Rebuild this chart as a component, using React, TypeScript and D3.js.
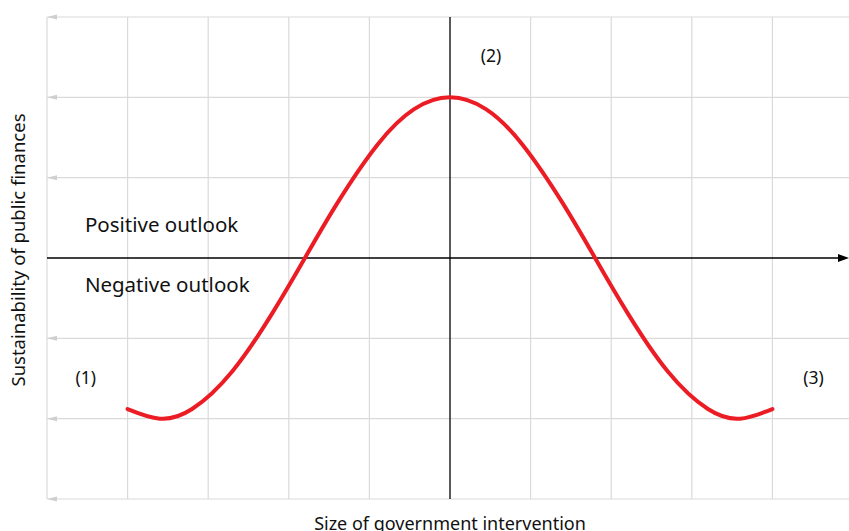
import React from 'react';
import * as d3 from 'd3';

// horizontal position of government size (-4 .. 4) and sustainability
const curveX = [-4, -3.6, -3.2, -2.7, -2.2, -1.8, -1.4, -0.9, -0.45, 0, 0.45, 0.9, 1.4, 1.8, 2.2, 2.7, 3.2, 3.6, 4];
const curveY = [-1.88, -2, -1.88, -1.41, -0.68, 0, 0.68, 1.41, 1.85, 2, 1.85, 1.41, 0.68, 0, -0.68, -1.41, -1.88, -2, -1.88];

const xGrid = [-4, -3, -2, -1, 1, 2, 3, 4];
const yGrid = [-3, -2, -1, 1, 2, 3];

const pointLabels = [
  { text: '(1)', x: -4.52, y: -1.51 },
  { text: '(2)', x: 0.51, y: 2.5 },
  { text: '(3)', x: 4.51, y: -1.51 },
];
const regionLabels = [
  { text: 'Positive outlook', x: -4.53, y: 0.39 },
  { text: 'Negative outlook', x: -4.53, y: -0.36 },
];

const width = 849;
const height = 531;
const font = '"Noto Sans", "Open Sans", sans-serif';

const App = () => {
  const x = d3.scaleLinear().domain([-5, 5]).range([47, 853]);
  const y = d3.scaleLinear().domain([-3, 3]).range([499, 17]);

  const points: [number, number][] = curveX.map((v, i) => [v, curveY[i]]);
  const line = d3.line<[number, number]>()
    .x(d => x(d[0]))
    .y(d => y(d[1]))
    .curve(d3.curveNatural);

  const grey = '#dadada';

  return (
    <div style={{ position: 'fixed', left: 0, top: 0 }}>
      <svg width={width} height={height} style={{ display: 'block', background: '#fff' }}>
        {/* grid */}
        {xGrid.map(v => (
          <line key={'gx' + v} x1={x(v)} x2={x(v)} y1={y(3)} y2={y(-3)} stroke={grey} strokeWidth={1.2} />
        ))}
        {yGrid.map(v => (
          <g key={'gy' + v}>
            <line x1={x(-5)} x2={width} y1={y(v)} y2={y(v)} stroke={grey} strokeWidth={1.2} />
            <path d={`M${x(-5)},${y(v)} L${x(-5) + 10},${y(v) - 2.5} L${x(-5) + 10},${y(v) + 2.5} Z`} fill="#cfcfcf" />
          </g>
        ))}
        <line x1={x(-5)} x2={x(-5)} y1={y(3)} y2={y(-3)} stroke={grey} strokeWidth={1.2} />

        {/* axes */}
        <line x1={x(0)} x2={x(0)} y1={y(3)} y2={y(-3)} stroke="#000" strokeWidth={1.3} />
        <line x1={x(-5)} x2={width - 8} y1={y(0)} y2={y(0)} stroke="#000" strokeWidth={1.3} />
        <path d={`M${width},${y(0)} L${width - 11},${y(0) - 4} L${width - 11},${y(0) + 4} Z`} fill="#000" />

        {/* curve */}
        <path d={line(points) || ''} fill="none" stroke="#ec1c24" strokeWidth={4} strokeLinecap="round" />

        {/* labels */}
        {pointLabels.map(l => (
          <text key={l.text} x={x(l.x)} y={y(l.y)} fontFamily={font} fontSize={17.5} fill="#111" textAnchor="middle" dominantBaseline="middle">
            {l.text}
          </text>
        ))}
        {regionLabels.map(l => (
          <text key={l.text} x={x(l.x)} y={y(l.y)} fontFamily={font} fontSize={20.5} fill="#111" dominantBaseline="middle">
            {l.text}
          </text>
        ))}
        <text x={x(0)} y={height - 1} fontFamily={font} fontSize={18} fill="#111" textAnchor="middle">
          Size of government intervention
        </text>
        <text transform={`translate(25,${y(0) - 8}) rotate(-90)`} fontFamily={font} fontSize={18.5} fill="#111" textAnchor="middle">
          Sustainability of public finances
        </text>
      </svg>
    </div>
  );
};

export default App;
